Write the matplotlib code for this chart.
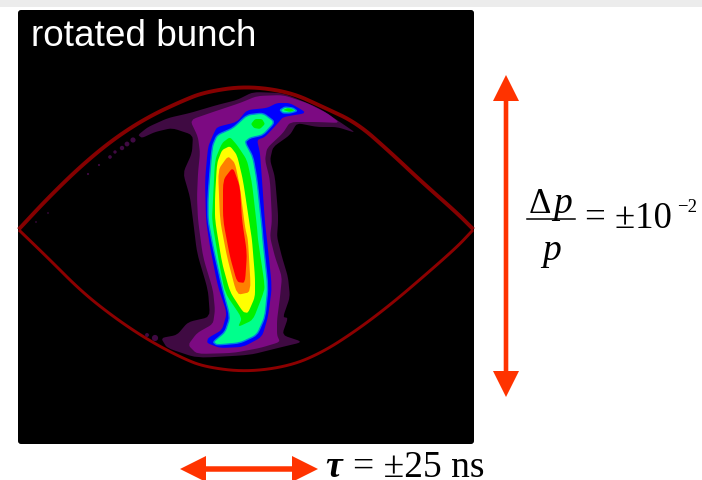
import matplotlib
matplotlib.use("Agg")
import matplotlib.pyplot as plt
from matplotlib.patches import FancyArrow, FancyBboxPatch, Rectangle

# everything, in picture pixels
sep_top_x = [20, 48, 82, 115, 148, 182, 205, 246, 290, 323, 357, 390, 423, 457, 472]
sep_top_y = [228, 198, 165, 138, 117, 101, 92, 86, 92, 107, 123, 152, 183, 213, 228]
sep_bot_x = [20, 48, 82, 115, 148, 182, 205, 246, 290, 323, 357, 390, 423, 457, 472]
sep_bot_y = [231, 258, 292, 318, 340, 358, 367, 372, 366, 352, 330, 305, 277, 247, 231]

level_dark = [(138,135),(148,127),(168,118),(190,113),(217,105),(237,100),(253,92),(283,93),(317,107),(340,122),(356,133),(337,127),(317,127),(297,123),(290,135),(273,147),(270,160),(275,177),(278,213),(278,223),(277,237),(282,257),(288,277),(290,297),(283,317),(288,318),(282,335),(303,342),(278,348),(250,355),(197,358),(167,348),(161,338),(177,335),(188,322),(210,317),(208,290),(197,253),(193,220),(190,197),(183,173),(192,153),(193,135),(172,128),(155,132),(142,138)]
level_purple = [(190,120),(213,112),(240,103),(257,96),(283,95),(307,103),(327,113),(340,123),(317,122),(290,122),(283,133),(267,148),(265,160),(270,180),(272,220),(270,237),(275,257),(282,277),(280,297),(277,320),(277,335),(280,342),(260,348),(233,353),(197,354),(188,345),(197,333),(213,324),(215,310),(213,290),(203,257),(198,220),(197,197),(198,173),(200,153),(198,137)]
level_blue = [(205,180),(208,147),(213,135),(217,127),(237,122),(247,110),(267,108),(277,103),(290,103),(307,113),(283,117),(278,123),(265,137),(257,140),(260,153),(262,180),(265,223),(267,240),(272,287),(268,317),(262,337),(243,347),(220,348),(207,343),(208,338),(222,330),(227,313),(218,287),(210,247),(206,220)]
level_spring = [(208,197),(212,147),(217,135),(233,128),(247,115),(263,113),(275,122),(263,135),(250,138),(245,142),(253,157),(257,180),(262,227),(263,240),(268,287),(265,317),(257,335),(240,343),(217,345),(213,342),(225,332),(230,317),(222,287),(213,247),(208,220)]
spring_tip = [(280,110),(285,107),(293,108),(297,111),(290,113),(283,113)]
level_green = [(213,200),(215,160),(222,143),(230,137),(237,145),(247,160),(252,183),(257,227),(258,240),(265,287),(262,297),(253,320),(238,327),(242,318),(225,293),(218,257),(212,220)]
green_head = [(251,124),(255,119),(262,119),(265,124),(260,129),(254,128)]
green_tip = [(283,110),(288,108),(295,110),(290,112)]
level_yellow = [(215,197),(217,163),(222,150),(230,146),(237,155),(243,180),(250,227),(252,240),(255,277),(255,297),(248,313),(243,312),(230,292),(222,263),(215,220)]
level_orange = [(218,170),(228,156),(235,163),(240,187),(245,227),(248,240),(251,292),(237,295),(227,257),(220,220)]
level_red = [(223,180),(233,167),(240,187),(242,220),(247,253),(245,283),(237,282),(230,257),(223,220)]

speck_x = [133, 127, 122, 115, 110, 99, 88, 155, 147, 48, 36]
speck_y = [140, 144, 148, 152, 157, 165, 174, 338, 335, 213, 222]
speck_size = [14, 12, 10, 6, 7, 2.5, 2.5, 20, 8, 1.5, 1.5]


def smooth(pts, cut=0.15, n=2):
    # corner cutting so the polygons look like contours
    for _ in range(n):
        new = []
        for i in range(len(pts)):
            x0, y0 = pts[i]
            x1, y1 = pts[(i + 1) % len(pts)]
            new.append(((1 - cut) * x0 + cut * x1, (1 - cut) * y0 + cut * y1))
            new.append((cut * x0 + (1 - cut) * x1, cut * y0 + (1 - cut) * y1))
        pts = new
    return pts


def smooth_line(xs, ys, n=3):
    pts = list(zip(xs, ys))
    for _ in range(n):
        new = [pts[0]]
        for (x0, y0), (x1, y1) in zip(pts[:-1], pts[1:]):
            new.append((0.75 * x0 + 0.25 * x1, 0.75 * y0 + 0.25 * y1))
            new.append((0.25 * x0 + 0.75 * x1, 0.25 * y0 + 0.75 * y1))
        new.append(pts[-1])
        pts = new
    return zip(*pts)


def blob(ax, pts, color, edge=None):
    xs, ys = zip(*smooth(pts))
    if edge:
        ax.fill(xs, ys, facecolor=color, edgecolor=edge, linewidth=1.0, zorder=3)
    else:
        ax.fill(xs, ys, facecolor=color, edgecolor="none", zorder=3)


fig = plt.figure(figsize=(7.02, 4.8), dpi=100)
ax = fig.add_axes([0, 0, 1, 1])
ax.set_xlim(0, 702)
ax.set_ylim(480, 0)
ax.axis("off")

ax.add_patch(Rectangle((0, 0), 702, 7, facecolor="#ececec", edgecolor="none"))
ax.add_patch(FancyBboxPatch((20, 12), 452, 430, boxstyle="round,pad=2,rounding_size=3",
                            facecolor="black", edgecolor="none", zorder=1))

blob(ax, level_dark, "#3f0a42")
ax.scatter(speck_x, speck_y, s=speck_size, color="#3f0a42", linewidths=0, zorder=3)
blob(ax, level_purple, "#7c0a82")
blob(ax, level_blue, "#0000ff")
blob(ax, level_spring, "#00ff8c", edge="#0080e0")
blob(ax, spring_tip, "#00ff8c", edge="#0080e0")
blob(ax, level_green, "#00f000")
blob(ax, green_head, "#00f000")
blob(ax, green_tip, "#00f000")
blob(ax, level_yellow, "#ffff00")
blob(ax, level_orange, "#ff8000")
blob(ax, level_red, "#ff0000")

tx, ty = smooth_line(sep_top_x, sep_top_y)
bx, by = smooth_line(sep_bot_x, sep_bot_y)
ax.plot(tx, ty, color="#850000", lw=2.8, zorder=4)
ax.plot(bx, by, color="#8c0000", lw=2.1, zorder=4)

red = "#ff3300"
ax.add_patch(FancyArrow(506, 236, 0, -161, width=4.6, head_width=26, head_length=26,
                        length_includes_head=True, color=red, lw=0, zorder=5))
ax.add_patch(FancyArrow(506, 236, 0, 161, width=4.6, head_width=26, head_length=26,
                        length_includes_head=True, color=red, lw=0, zorder=5))
ax.add_patch(FancyArrow(249, 469, -69, 0, width=5.5, head_width=26, head_length=26,
                        length_includes_head=True, color=red, lw=0, zorder=5))
ax.add_patch(FancyArrow(249, 469, 69, 0, width=5.5, head_width=26, head_length=26,
                        length_includes_head=True, color=red, lw=0, zorder=5))

ax.text(31, 46.5, "rotated bunch", color="white", fontsize=26.6,
        family="Liberation Sans", zorder=6)

serif = "Liberation Serif"
ax.text(529, 213, "Δ", fontsize=25, family=serif, color="black")
ax.text(553, 213, "p", fontsize=27, family=serif, style="italic", color="black")
ax.plot([527, 575], [219, 219], color="black", lw=1.1)
ax.text(542, 260, "p", fontsize=27, family=serif, style="italic", color="black")
ax.text(585, 228, "= ±10", fontsize=26.5, family=serif, color="black")
ax.text(677, 212, "−2", fontsize=13.5, family=serif, color="black")

ax.text(325, 477, "τ", fontsize=27, family=serif, style="italic", weight="bold", color="black")
ax.text(353, 477, "= ±25 ns", fontsize=27, family=serif, color="black")

fig.savefig("out.png", dpi=100)
